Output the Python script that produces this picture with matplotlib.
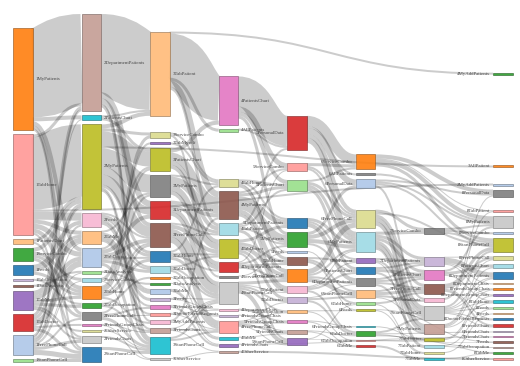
import matplotlib.pyplot as plt
from matplotlib.path import Path
from matplotlib.patches import PathPatch, Rectangle

# nodes, listed column by column, top to bottom
node_names = [
    "1MyPatients", "1TabHome", "1PatientsChart", "1ServiceCombo", "1Feeds", "1TabOccupation",
    "1DataAnalysis", "1TabMe", "1TabDoctor", "1FreePhoneCall", "1StartPhoneCall",
    "2DepartmentPatients", "2PatientsChart", "2MyPatients", "2Feeds", "2TabMe", "2TabDoctor",
    "2DataAnalysis", "2ServiceCombo", "2TabHome", "2TabOccupation", "2FreePhoneCall",
    "2FriendsGroupChats", "2OtherService", "2FriendsChats", "2StartPhoneCall",
    "3TabPatient", "3ServiceCombo", "3TabMyself", "3PatientsChart", "3MyPatients",
    "3DepartmentPatients", "3FreePhoneCall", "3TabHome", "3TabDoctor", "3TabOccupation",
    "3DataAnalysis", "3TabMe", "3Feeds", "3FriendsGroupChats", "3DoctorFriendRequests",
    "3MyAddPatients", "3FriendsChats", "3StartPhoneCall", "3OtherService",
    "4PatientsChart", "4AllPatients", "4TabHome", "4MyPatients", "4TabPatient", "4TabDoctor",
    "4DepartmentPatients", "4ServiceCombo", "4StartPhoneCall", "4DepartmentChats",
    "4FriendsGroupChats", "4FreePhoneCall", "4TabMe", "4FriendsChats", "4OtherService",
    "5PersonalData", "5ServiceCombo", "5PatientsChart", "5DepartmentPatients", "5MyPatients",
    "5Feeds", "5TabHome", "5FreePhoneCall", "5TabPatient", "5TabDoctor", "5TabOccupation",
    "5FriendsGroupChats", "5FriendsChats", "5StartPhoneCall",
    "6ServiceCombo", "6AllPatients", "6PersonalData", "6FreePhoneCall", "6MyPatients",
    "6TabPatient", "6PatientsChart", "6DepartmentPatients", "6StartPhoneCall", "6TabHome",
    "6Feeds", "6FriendsGroupChats", "6TabDoctor", "6TabOccupation", "6TabMe",
    "7ServiceCombo", "7DepartmentPatients", "7PatientsChart", "7FreePhoneCall", "7PersonalData",
    "7StartPhoneCall", "7MyPatients", "7TabDoctor", "7TabPatient", "7TabHome", "7TabMe",
    "4MyAddPatients", "3AllPatient", "2MyAddPatients", "8PersonalData", "8TabPatient",
    "8MyPatients", "8ServiceCombo", "8StartPhoneCall", "8FreePhoneCall", "8PatientsChart",
    "8DepartmentPatients", "8DepartmentChats", "8FriendsGroupChats", "8DepartmentGroupChats",
    "8TabHome", "8Feeds", "4Feeds", "8DoctorFriendRequests", "8FriendsChats", "6FriendsChats",
    "7FriendsChats", "7Feeds", "7TabOccupation", "8TabMe", "8OtherService",
]

flows_1 = [
    ("1MyPatients", "2DepartmentPatients", 89), ("1MyPatients", "2PatientsChart", 4),
    ("1MyPatients", "2TabDoctor", 4), ("1MyPatients", "2FreePhoneCall", 3),
    ("1MyPatients", "2StartPhoneCall", 2),
    ("1TabHome", "2MyPatients", 72), ("1TabHome", "2Feeds", 8), ("1TabHome", "2TabMe", 4),
    ("1TabHome", "2TabDoctor", 5), ("1TabHome", "2TabHome", 4), ("1TabHome", "2StartPhoneCall", 2),
    ("1TabHome", "2DepartmentPatients", 3), ("1TabHome", "2MyAddPatients", 2),
    ("1PatientsChart", "2MyPatients", 3), ("1PatientsChart", "2FriendsChats", 2),
    ("1ServiceCombo", "2ServiceCombo", 3), ("1ServiceCombo", "2MyPatients", 4),
    ("1ServiceCombo", "2TabHome", 3), ("1ServiceCombo", "2FreePhoneCall", 3),
    ("1Feeds", "2Feeds", 4), ("1Feeds", "2TabMe", 3), ("1Feeds", "2TabHome", 3),
    ("1TabOccupation", "2TabOccupation", 2), ("1DataAnalysis", "2DataAnalysis", 2),
    ("1TabMe", "2TabMe", 5), ("1TabMe", "2TabDoctor", 4), ("1TabMe", "2TabHome", 3),
    ("1TabMe", "2TabOccupation", 3), ("1TabMe", "2FriendsChats", 2), ("1TabMe", "2OtherService", 2),
    ("1TabDoctor", "2TabDoctor", 6), ("1TabDoctor", "2MyPatients", 3),
    ("1TabDoctor", "2DepartmentPatients", 3), ("1TabDoctor", "2StartPhoneCall", 3),
    ("1TabDoctor", "2FriendsGroupChats", 2),
    ("1FreePhoneCall", "2MyPatients", 2), ("1FreePhoneCall", "2Feeds", 2),
    ("1FreePhoneCall", "2StartPhoneCall", 5), ("1FreePhoneCall", "2FriendsChats", 3),
    ("1FreePhoneCall", "2FreePhoneCall", 2), ("1FreePhoneCall", "2DepartmentPatients", 2),
    ("1FreePhoneCall", "2DataAnalysis", 1), ("1FreePhoneCall", "2ServiceCombo", 1),
    ("1FreePhoneCall", "2PatientsChart", 1), ("1FreePhoneCall", "2TabMe", 1),
    ("1StartPhoneCall", "2StartPhoneCall", 3),
]

flows_2 = [
    ("2DepartmentPatients", "3TabPatient", 78), ("2DepartmentPatients", "3DepartmentPatients", 6),
    ("2DepartmentPatients", "3FreePhoneCall", 4), ("2DepartmentPatients", "3StartPhoneCall", 3),
    ("2DepartmentPatients", "3MyAddPatients", 2),
    ("2PatientsChart", "3PatientsChart", 3), ("2PatientsChart", "3TabPatient", 2),
    ("2MyPatients", "3PatientsChart", 15), ("2MyPatients", "3MyPatients", 18),
    ("2MyPatients", "3DepartmentPatients", 8), ("2MyPatients", "3FreePhoneCall", 10),
    ("2MyPatients", "3TabPatient", 4), ("2MyPatients", "3ServiceCombo", 3),
    ("2MyPatients", "3TabHome", 3), ("2MyPatients", "3StartPhoneCall", 2),
    ("2MyPatients", "3FriendsChats", 2), ("2MyPatients", "3AllPatient", 2),
    ("2Feeds", "3Feeds", 3), ("2Feeds", "3TabHome", 3), ("2Feeds", "3FreePhoneCall", 2),
    ("2Feeds", "3TabDoctor", 2), ("2Feeds", "3TabMe", 2),
    ("2TabMe", "3TabMe", 3), ("2TabMe", "3TabDoctor", 2), ("2TabMe", "3FriendsGroupChats", 2),
    ("2TabMe", "3DoctorFriendRequests", 2), ("2TabMe", "3MyPatients", 2),
    ("2TabDoctor", "3DepartmentPatients", 4), ("2TabDoctor", "3TabDoctor", 3),
    ("2TabDoctor", "3FreePhoneCall", 4), ("2TabDoctor", "3StartPhoneCall", 3),
    ("2TabDoctor", "3TabHome", 2), ("2TabDoctor", "3PatientsChart", 2),
    ("2DataAnalysis", "3DataAnalysis", 2),
    ("2ServiceCombo", "3ServiceCombo", 3), ("2ServiceCombo", "3OtherService", 1),
    ("2TabHome", "3TabHome", 3), ("2TabHome", "3MyPatients", 2), ("2TabHome", "3PatientsChart", 2),
    ("2TabHome", "3FreePhoneCall", 2), ("2TabHome", "3TabMyself", 2), ("2TabHome", "3MyAddPatients", 2),
    ("2TabOccupation", "3TabOccupation", 2), ("2TabOccupation", "3FriendsChats", 2),
    ("2FreePhoneCall", "3FreePhoneCall", 2), ("2FreePhoneCall", "3StartPhoneCall", 3),
    ("2FreePhoneCall", "3DoctorFriendRequests", 1), ("2FreePhoneCall", "3FriendsGroupChats", 2),
    ("2FriendsGroupChats", "3FriendsChats", 1), ("2FriendsGroupChats", "3OtherService", 1),
    ("2OtherService", "3StartPhoneCall", 1), ("2FriendsChats", "3StartPhoneCall", 2),
    ("2StartPhoneCall", "3StartPhoneCall", 3),
]

flows_3 = [
    ("3TabPatient", "4PatientsChart", 44), ("3TabPatient", "4AllPatients", 3),
    ("3TabPatient", "4MyAddPatients", 2), ("3TabPatient", "4MyPatients", 6),
    ("3TabPatient", "4TabPatient", 3),
    ("3ServiceCombo", "4ServiceCombo", 2), ("3ServiceCombo", "4TabHome", 2),
    ("3TabMyself", "4TabHome", 2),
    ("3PatientsChart", "4PatientsChart", 4), ("3PatientsChart", "4MyPatients", 8),
    ("3PatientsChart", "4TabPatient", 4), ("3PatientsChart", "4TabDoctor", 4),
    ("3MyPatients", "4MyPatients", 8), ("3MyPatients", "4TabDoctor", 6),
    ("3MyPatients", "4DepartmentPatients", 4), ("3MyPatients", "4TabHome", 2),
    ("3DepartmentPatients", "4DepartmentPatients", 4), ("3DepartmentPatients", "4MyPatients", 4),
    ("3DepartmentPatients", "4TabPatient", 3), ("3DepartmentPatients", "4StartPhoneCall", 4),
    ("3FreePhoneCall", "4FreePhoneCall", 6), ("3FreePhoneCall", "4StartPhoneCall", 8),
    ("3FreePhoneCall", "4TabDoctor", 4), ("3FreePhoneCall", "4TabPatient", 2),
    ("3TabHome", "4TabHome", 2), ("3TabHome", "4TabDoctor", 2), ("3TabHome", "4StartPhoneCall", 3),
    ("3TabHome", "4DepartmentPatients", 2),
    ("3TabDoctor", "4TabDoctor", 2), ("3TabDoctor", "4StartPhoneCall", 2),
    ("3TabDoctor", "4FreePhoneCall", 2),
    ("3TabOccupation", "4TabMe", 1), ("3DataAnalysis", "4FriendsGroupChats", 1),
    ("3TabMe", "4TabMe", 2), ("3TabMe", "4FriendsChats", 1),
    ("3Feeds", "4StartPhoneCall", 1), ("3Feeds", "4DepartmentChats", 1),
    ("3FriendsGroupChats", "4FriendsChats", 2), ("3FriendsGroupChats", "4FriendsGroupChats", 1),
    ("3DoctorFriendRequests", "4DepartmentChats", 1), ("3DoctorFriendRequests", "4FreePhoneCall", 1),
    ("3MyAddPatients", "4MyPatients", 2), ("3MyAddPatients", "4StartPhoneCall", 1),
    ("3FriendsChats", "4FreePhoneCall", 1), ("3FriendsChats", "4StartPhoneCall", 1),
    ("3FriendsChats", "4OtherService", 1),
    ("3StartPhoneCall", "4StartPhoneCall", 2), ("3StartPhoneCall", "4FreePhoneCall", 2),
    ("3OtherService", "4OtherService", 1),
]

flows_4 = [
    ("4PatientsChart", "5PersonalData", 30), ("4PatientsChart", "5ServiceCombo", 5),
    ("4PatientsChart", "5PatientsChart", 4), ("4PatientsChart", "5MyPatients", 3),
    ("4AllPatients", "5PersonalData", 2),
    ("4TabHome", "5TabHome", 3), ("4TabHome", "5PatientsChart", 2), ("4TabHome", "5Feeds", 1),
    ("4TabHome", "5DepartmentPatients", 2),
    ("4MyPatients", "5MyPatients", 8), ("4MyPatients", "5DepartmentPatients", 5),
    ("4MyPatients", "5PatientsChart", 3), ("4MyPatients", "5FreePhoneCall", 4),
    ("4MyPatients", "5ServiceCombo", 2), ("4MyPatients", "5TabPatient", 3),
    ("4TabPatient", "5PersonalData", 2), ("4TabPatient", "5TabPatient", 3),
    ("4TabPatient", "5PatientsChart", 2), ("4TabPatient", "5MyPatients", 2),
    ("4TabDoctor", "5TabDoctor", 3), ("4TabDoctor", "5FreePhoneCall", 4),
    ("4TabDoctor", "5TabHome", 3), ("4TabDoctor", "5DepartmentPatients", 3),
    ("4TabDoctor", "5StartPhoneCall", 2),
    ("4DepartmentPatients", "5MyPatients", 2), ("4DepartmentPatients", "5TabHome", 2),
    ("4DepartmentPatients", "5FreePhoneCall", 2), ("4DepartmentPatients", "5ServiceCombo", 1),
    ("4ServiceCombo", "5Feeds", 1),
    ("4StartPhoneCall", "5FreePhoneCall", 3), ("4StartPhoneCall", "5StartPhoneCall", 4),
    ("4StartPhoneCall", "5TabDoctor", 2), ("4StartPhoneCall", "5TabOccupation", 2),
    ("4StartPhoneCall", "5TabPatient", 1),
    ("4DepartmentChats", "5FriendsGroupChats", 2), ("4FriendsGroupChats", "5FriendsChats", 1),
    ("4FreePhoneCall", "5StartPhoneCall", 1), ("4FreePhoneCall", "5FriendsChats", 2),
    ("4FreePhoneCall", "5TabOccupation", 1), ("4FreePhoneCall", "5TabDoctor", 1),
    ("4FreePhoneCall", "5FriendsGroupChats", 1),
    ("4TabMe", "5FriendsChats", 1), ("4FriendsChats", "7FriendsChats", 1),
    ("4OtherService", "8OtherService", 2),
]

flows_5 = [
    ("5PersonalData", "6ServiceCombo", 10), ("5PersonalData", "6PersonalData", 6),
    ("5PersonalData", "6FreePhoneCall", 4), ("5PersonalData", "6MyPatients", 5),
    ("5PersonalData", "6AllPatients", 2),
    ("5ServiceCombo", "6ServiceCombo", 3), ("5ServiceCombo", "6FreePhoneCall", 2),
    ("5ServiceCombo", "6MyPatients", 2),
    ("5PatientsChart", "6PatientsChart", 3), ("5PatientsChart", "6MyPatients", 3),
    ("5PatientsChart", "6FreePhoneCall", 3), ("5PatientsChart", "6ServiceCombo", 2),
    ("5DepartmentPatients", "6DepartmentPatients", 4), ("5DepartmentPatients", "6MyPatients", 3),
    ("5DepartmentPatients", "6TabPatient", 2),
    ("5MyPatients", "6MyPatients", 4), ("5MyPatients", "6FreePhoneCall", 4),
    ("5MyPatients", "6PatientsChart", 2), ("5MyPatients", "6PersonalData", 3),
    ("5Feeds", "6Feeds", 1),
    ("5TabHome", "6TabHome", 2), ("5TabHome", "6StartPhoneCall", 2), ("5TabHome", "6TabPatient", 2),
    ("5FreePhoneCall", "6FreePhoneCall", 5), ("5FreePhoneCall", "6StartPhoneCall", 4),
    ("5FreePhoneCall", "6DepartmentPatients", 2), ("5FreePhoneCall", "6MyPatients", 2),
    ("5TabPatient", "6TabPatient", 1), ("5TabPatient", "6PatientsChart", 2),
    ("5TabPatient", "6MyPatients", 1), ("5TabPatient", "6TabDoctor", 2),
    ("5TabDoctor", "6TabDoctor", 2), ("5TabDoctor", "6StartPhoneCall", 2),
    ("5TabDoctor", "6DepartmentPatients", 1),
    ("5TabOccupation", "6TabOccupation", 1), ("5TabOccupation", "6Feeds", 1),
    ("5FriendsGroupChats", "6FriendsGroupChats", 1), ("5FriendsGroupChats", "6TabMe", 1),
    ("5FriendsChats", "6TabMe", 1), ("5FriendsChats", "6TabDoctor", 1),
    ("5StartPhoneCall", "6TabHome", 1), ("5StartPhoneCall", "7Feeds", 0.5),
]

flows_6 = [
    ("6ServiceCombo", "8PersonalData", 4), ("6ServiceCombo", "8TabPatient", 1),
    ("6ServiceCombo", "8MyPatients", 4), ("6ServiceCombo", "8StartPhoneCall", 3),
    ("6AllPatients", "8MyPatients", 2),
    ("6PersonalData", "8PersonalData", 2), ("6PersonalData", "8MyPatients", 2),
    ("6PersonalData", "8StartPhoneCall", 2), ("6PersonalData", "7PersonalData", 2),
    ("6FreePhoneCall", "7ServiceCombo", 3), ("6FreePhoneCall", "7FreePhoneCall", 3),
    ("6FreePhoneCall", "7StartPhoneCall", 4), ("6FreePhoneCall", "7MyPatients", 4),
    ("6FreePhoneCall", "8StartPhoneCall", 2),
    ("6MyPatients", "7ServiceCombo", 3), ("6MyPatients", "7DepartmentPatients", 3),
    ("6MyPatients", "7PatientsChart", 3), ("6MyPatients", "7StartPhoneCall", 3),
    ("6MyPatients", "7MyPatients", 4), ("6MyPatients", "7TabPatient", 2),
    ("6TabPatient", "7DepartmentPatients", 2), ("6TabPatient", "7StartPhoneCall", 2),
    ("6TabPatient", "7TabPatient", 1),
    ("6PatientsChart", "7DepartmentPatients", 2), ("6PatientsChart", "7PatientsChart", 3),
    ("6PatientsChart", "7StartPhoneCall", 2),
    ("6DepartmentPatients", "7DepartmentPatients", 2), ("6DepartmentPatients", "7PatientsChart", 2),
    ("6DepartmentPatients", "7FreePhoneCall", 2), ("6DepartmentPatients", "7MyPatients", 2),
    ("6StartPhoneCall", "7PatientsChart", 2), ("6StartPhoneCall", "7FreePhoneCall", 3),
    ("6StartPhoneCall", "7PersonalData", 2), ("6StartPhoneCall", "7StartPhoneCall", 1),
    ("6TabHome", "7FreePhoneCall", 2), ("6TabHome", "7TabHome", 1),
    ("6Feeds", "7Feeds", 1), ("6Feeds", "7TabHome", 1),
    ("6FriendsGroupChats", "7TabDoctor", 1),
    ("6TabDoctor", "7TabDoctor", 1), ("6TabDoctor", "7StartPhoneCall", 2),
    ("6TabDoctor", "6FriendsChats", 1), ("6TabDoctor", "7TabOccupation", 1),
    ("6TabOccupation", "7TabDoctor", 1), ("6TabMe", "7TabMe", 2),
]

flows_7 = [
    ("7ServiceCombo", "8MyPatients", 2), ("7ServiceCombo", "8ServiceCombo", 2),
    ("7ServiceCombo", "8StartPhoneCall", 2),
    ("7DepartmentPatients", "8DepartmentPatients", 5), ("7DepartmentPatients", "8DepartmentChats", 1),
    ("7DepartmentPatients", "8DepartmentGroupChats", 1), ("7DepartmentPatients", "8FreePhoneCall", 1),
    ("7PatientsChart", "8MyPatients", 2), ("7PatientsChart", "8PatientsChart", 3),
    ("7PatientsChart", "8TabHome", 1),
    ("7FreePhoneCall", "8StartPhoneCall", 3), ("7FreePhoneCall", "8FreePhoneCall", 2),
    ("7FreePhoneCall", "8DoctorFriendRequests", 1), ("7FreePhoneCall", "8FriendsChats", 2),
    ("7PersonalData", "8PersonalData", 1), ("7PersonalData", "8TabPatient", 1),
    ("7StartPhoneCall", "8StartPhoneCall", 2), ("7StartPhoneCall", "8DepartmentPatients", 1),
    ("7StartPhoneCall", "8FriendsGroupChats", 1), ("7StartPhoneCall", "8TabHome", 1),
    ("7StartPhoneCall", "8Feeds", 1), ("7StartPhoneCall", "8DoctorFriendRequests", 1),
    ("7StartPhoneCall", "8FriendsChats", 1),
    ("7MyPatients", "8FreePhoneCall", 1), ("7MyPatients", "8PatientsChart", 1),
    ("7MyPatients", "8DepartmentPatients", 1), ("7MyPatients", "8TabHome", 1),
    ("7TabDoctor", "8FriendsGroupChats", 1), ("7TabDoctor", "8DepartmentGroupChats", 1),
    ("7TabPatient", "8Feeds", 1), ("7TabPatient", "8TabMe", 1),
    ("7TabHome", "4Feeds", 1), ("7TabMe", "8TabMe", 1),
]

links = flows_1 + flows_2 + flows_3 + flows_4 + flows_5 + flows_6 + flows_7

c20 = {"blue": "#1f77b4", "lblue": "#aec7e8", "orange": "#ff7f0e", "lorange": "#ffbb78",
       "green": "#2ca02c", "lgreen": "#98df8a", "red": "#d62728", "lred": "#ff9896",
       "purple": "#9467bd", "lpurple": "#c5b0d5", "brown": "#8c564b", "lbrown": "#c49c94",
       "pink": "#e377c2", "lpink": "#f7b6d2", "gray": "#7f7f7f", "lgray": "#c7c7c7",
       "olive": "#bcbd22", "lolive": "#dbdb8d", "cyan": "#17becf", "lcyan": "#9edae5"}
node_color = [
    "orange", "lred", "lorange", "green", "blue", "lpurple", "brown", "purple", "red", "lblue", "lgreen",
    "lbrown", "cyan", "olive", "lpink", "lorange", "lblue", "lgreen", "lcyan", "orange", "green", "gray",
    "pink", "lolive", "lgray", "blue",
    "lorange", "lolive", "purple", "olive", "gray", "red", "brown", "blue", "lcyan", "orange", "green",
    "lblue", "lpurple", "pink", "lred", "lpink", "lbrown", "cyan", "lgray",
    "pink", "lgreen", "lolive", "brown", "lcyan", "olive", "red", "gray", "lgray", "lpink", "lpurple",
    "lred", "cyan", "purple", "lbrown",
    "red", "lred", "lgreen", "blue", "green", "lblue", "brown", "orange", "lpink", "lpurple", "lorange",
    "pink", "lbrown", "purple",
    "orange", "gray", "lblue", "lolive", "lcyan", "purple", "blue", "gray", "lorange", "lgreen", "olive",
    "cyan", "green", "lred", "red",
    "gray", "lpurple", "pink", "brown", "lpink", "lgray", "lbrown", "olive", "lcyan", "lolive", "cyan",
    "green", "orange", "lblue", "gray", "lred", "lgray", "lblue", "olive", "lolive", "lcyan", "blue",
    "lorange", "orange", "purple", "cyan", "lgreen", "lorange", "blue", "red", "lpurple", "pink",
    "brown", "lbrown", "green", "lred",
]

# ---- sankey layout (d3-sankey style) ----
top, bottom = 14, 360
left, right = 13, 512.5
node_w = 19.5
pad = 4
ncol = 8

outs = {n: [] for n in node_names}
ins = {n: [] for n in node_names}
for i, (s, t, v) in enumerate(links):
    outs[s].append(i)
    ins[t].append(i)
value = {n: max(sum(links[i][2] for i in outs[n]), sum(links[i][2] for i in ins[n]))
         for n in node_names}
col = {n: (int(n[0]) - 1 if outs[n] else ncol - 1) for n in node_names}
columns = [[n for n in node_names if col[n] == c] for c in range(ncol)]
step = (right - left - node_w) / (ncol - 1)
xpos = {n: left + col[n] * step for n in node_names}

ky = min((362 - top - (len(c) - 1) * pad) / sum(value[n] for n in c) for c in columns)
h = {n: value[n] * ky for n in node_names}
y = {}
for c in columns:
    for i, n in enumerate(c):
        y[n] = top + i


def center(n):
    return y[n] + h[n] / 2


def resolve_col(c):
    yy = top
    for n in c:
        if y[n] < yy:
            y[n] = yy
        yy = y[n] + h[n] + pad
    yy -= pad
    lim = 362 if c[0][0] in "12" else bottom
    if yy > lim:
        yy = lim
        for n in reversed(c):
            if y[n] + h[n] > yy:
                y[n] = yy - h[n]
            yy = y[n] - pad


for c in columns:
    resolve_col(c)

# relax toward linked nodes, settling each column before moving on
alpha = 1.0
for it in range(32):
    alpha *= 0.99
    for c in reversed(columns):
        for n in c:
            if outs[n]:
                tot = sum(links[i][2] for i in outs[n])
                cy = sum(center(links[i][1]) * links[i][2] for i in outs[n]) / tot
                y[n] += (cy - center(n)) * alpha
        resolve_col(c)
    for c in columns:
        for n in c:
            if ins[n]:
                tot = sum(links[i][2] for i in ins[n])
                cy = sum(center(links[i][0]) * links[i][2] for i in ins[n]) / tot
                y[n] += (cy - center(n)) * alpha
        resolve_col(c)

# link offsets within nodes
sy, ty = {}, {}
for n in node_names:
    off = y[n]
    for i in sorted(outs[n], key=lambda i: y[links[i][1]]):
        sy[i] = off + links[i][2] * ky / 2
        off += links[i][2] * ky
    off = y[n]
    for i in sorted(ins[n], key=lambda i: y[links[i][0]]):
        ty[i] = off + links[i][2] * ky / 2
        off += links[i][2] * ky

# ---- drawing ----
dpi = 100
fig = plt.figure(figsize=(5.2, 3.66), dpi=dpi)
ax = fig.add_axes([0, 0, 1, 1])
ax.set_xlim(0, 520)
ax.set_ylim(366, 0)
ax.axis("off")

for i, (s, t, v) in enumerate(links):
    x0 = xpos[s] + node_w
    x1 = xpos[t]
    xm = (x0 + x1) / 2
    path = Path([(x0, sy[i]), (xm, sy[i]), (xm, ty[i]), (x1, ty[i])],
                [Path.MOVETO, Path.CURVE4, Path.CURVE4, Path.CURVE4])
    ax.add_patch(PathPatch(path, fill=False, edgecolor="black", alpha=0.2,
                           lw=max(v * ky, 0.6) * 72 / dpi, capstyle="butt"))


def darker(hexc, k=0.5):
    r, g, b = (int(hexc[j:j + 2], 16) / 255 for j in (1, 3, 5))
    return (r * k, g * k, b * k)


for n, cname in zip(node_names, node_color):
    fc = c20[cname]
    ax.add_patch(Rectangle((xpos[n], y[n]), node_w, max(h[n], 1.0), facecolor=fc,
                           edgecolor=darker(fc), lw=0.4, alpha=0.9))
    if col[n] < ncol / 2:
        ax.text(xpos[n] + node_w + 3, center(n), n, ha="left", va="center",
                fontsize=3.5, family="Liberation Serif", color="#444444")
    else:
        ax.text(xpos[n] - 3, center(n), n, ha="right", va="center",
                fontsize=3.5, family="Liberation Serif", color="#444444")

fig.savefig("out.png", dpi=dpi)
